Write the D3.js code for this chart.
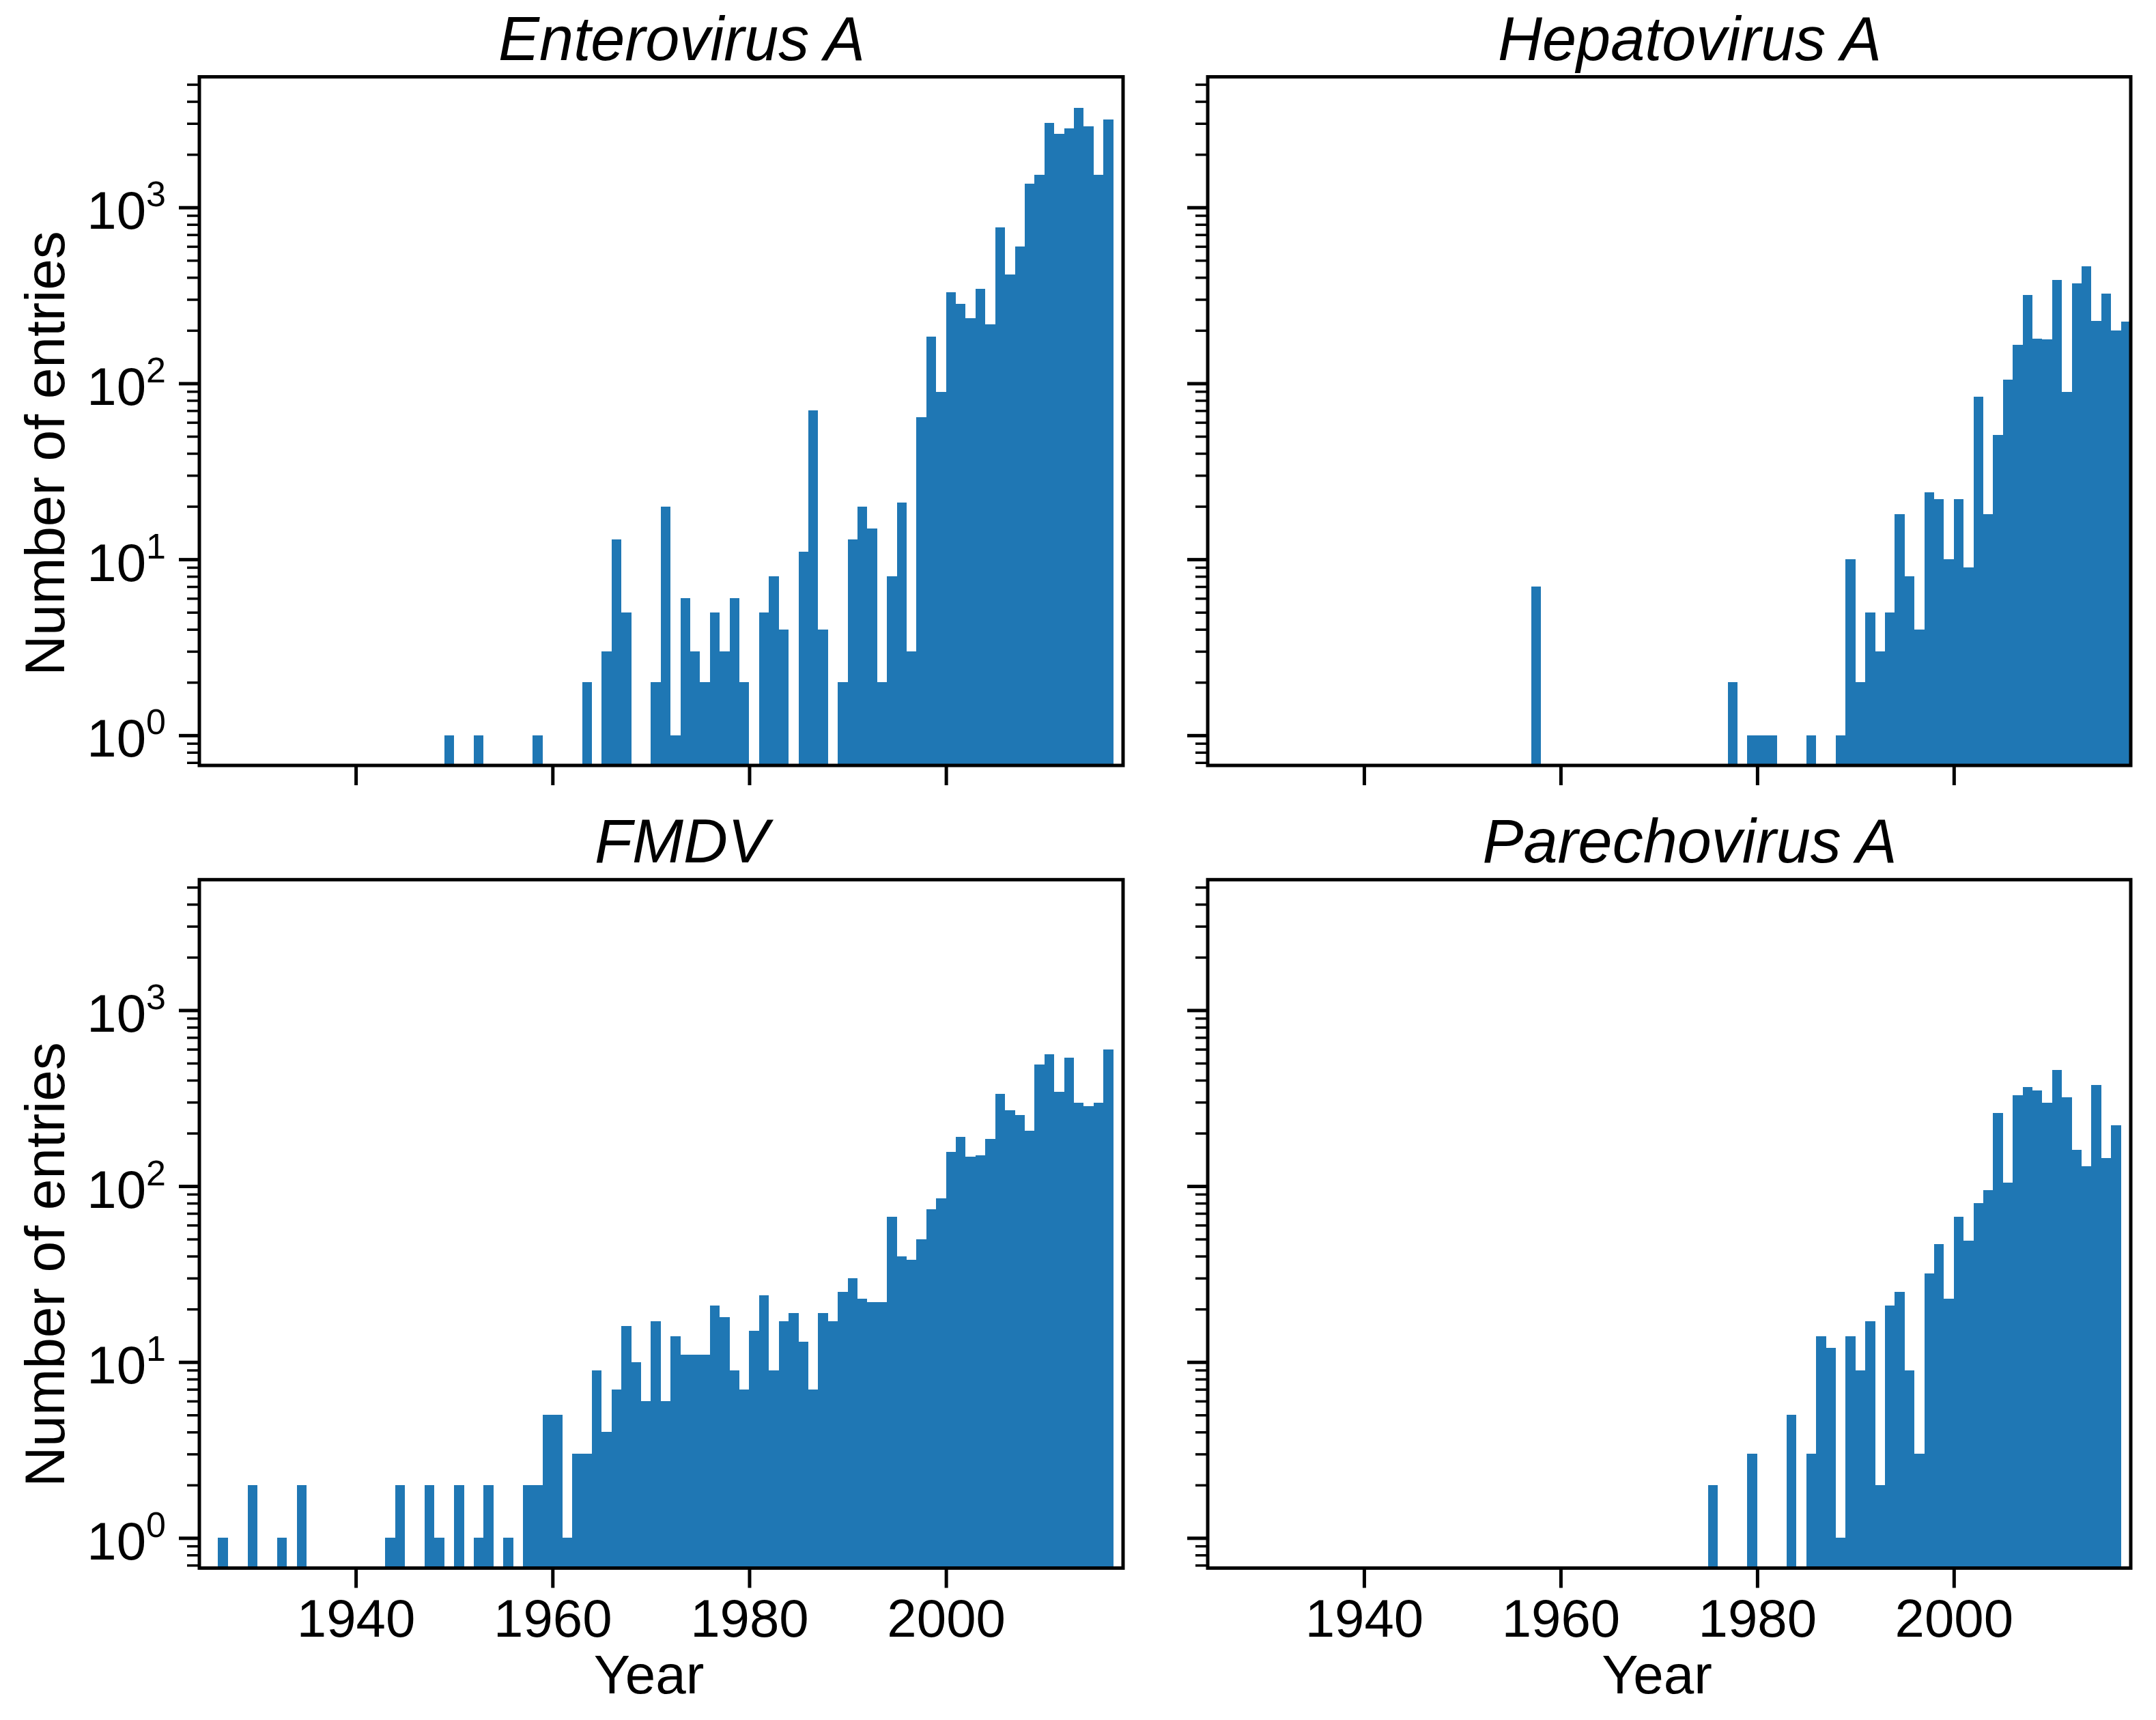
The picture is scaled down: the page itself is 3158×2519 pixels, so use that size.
<!DOCTYPE html>
<html>
<head>
<meta charset="utf-8">
<script src="https://cdn.jsdelivr.net/npm/d3@7"></script>
<style>
  html, body { margin: 0; padding: 0; background: #fff; }
  svg { display: block; font-family: "Liberation Sans", Arial, sans-serif; }
</style>
</head>
<body>
<svg id="fig" width="3158" height="2519"></svg>
<script>
// counts per yearly bin (bin = [year, year + 1))
var enteroYears = [1949, 1952, 1958, 1963, 1965, 1966, 1967, 1970, 1971, 1972, 1973, 1974, 1975, 1976, 1977, 1978, 1979,
    1981, 1982, 1983, 1985, 1986, 1987, 1989, 1990, 1991, 1992, 1993, 1994, 1995, 1996, 1997, 1998, 1999,
    2000, 2001, 2002, 2003, 2004, 2005, 2006, 2007, 2008, 2009, 2010, 2011, 2012, 2013, 2014, 2015, 2016];
var enteroCounts = [1, 1, 1, 2, 3, 13, 5, 2, 20, 1, 6, 3, 2, 5, 3, 6, 2,
    5, 8, 4, 11, 70, 4, 2, 13, 20, 15, 2, 8, 21, 3, 64, 185, 89,
    328, 283, 234, 345, 217, 767, 416, 601, 1362, 1525, 3033, 2614, 2807, 3664, 2890, 1534, 3162];

var hepatoYears = [1957, 1977, 1979, 1980, 1981, 1985, 1988, 1989, 1990, 1991, 1992, 1993, 1994, 1995, 1996, 1997,
    1998, 1999, 2000, 2001, 2002, 2003, 2004, 2005, 2006, 2007, 2008, 2009, 2010, 2011, 2012, 2013, 2014,
    2015, 2016, 2017];
var hepatoCounts = [7, 2, 1, 1, 1, 1, 1, 10, 2, 5, 3, 5, 18, 8, 4, 24,
    22, 10, 22, 9, 84, 18, 51, 105, 166, 319, 179, 178, 387, 89, 370, 463, 227,
    323, 199, 224];

var fmdvYears = [1926, 1929, 1932, 1934, 1943, 1944, 1947, 1948, 1950, 1952, 1953, 1955, 1957, 1958, 1959, 1960,
    1961, 1962, 1963, 1964, 1965, 1966, 1967, 1968, 1969, 1970, 1971, 1972, 1973, 1974, 1975, 1976, 1977,
    1978, 1979, 1980, 1981, 1982, 1983, 1984, 1985, 1986, 1987, 1988, 1989, 1990, 1991, 1992, 1993, 1994,
    1995, 1996, 1997, 1998, 1999, 2000, 2001, 2002, 2003, 2004, 2005, 2006, 2007, 2008, 2009, 2010, 2011,
    2012, 2013, 2014, 2015, 2016];
var fmdvCounts = [1, 2, 1, 2, 1, 2, 2, 1, 2, 1, 2, 1, 2, 2, 5, 5,
    1, 3, 3, 9, 4, 7, 16, 10, 6, 17, 6, 14, 11, 11, 11, 21, 18,
    9, 7, 15, 24, 9, 17, 19, 13, 7, 19, 17, 25, 30, 23, 22, 22, 67,
    40, 38, 50, 74, 85, 156, 191, 147, 150, 186, 334, 269, 253, 206, 492, 564, 344,
    537, 297, 285, 297, 598];

var parechoYears = [1975, 1979, 1983, 1985, 1986, 1987, 1988, 1989, 1990, 1991, 1992, 1993, 1994, 1995, 1996,
    1997, 1998, 1999, 2000, 2001, 2002, 2003, 2004, 2005, 2006, 2007, 2008, 2009, 2010, 2011, 2012, 2013,
    2014, 2015, 2016];
var parechoCounts = [2, 3, 5, 3, 14, 12, 1, 14, 9, 17, 2, 21, 25, 9, 3,
    32, 47, 23, 67, 49, 80, 95, 261, 105, 328, 365, 351, 299, 458, 321, 160, 130,
    377, 144, 222];

var titles = ["Enterovirus A", "Hepatovirus A", "FMDV", "Parechovirus A"];
var xTicks = [1940, 1960, 1980, 2000];
var yTicks = [1, 10, 100, 1000];
var yExponents = ["0", "1", "2", "3"];

var xDomain = [1924.1, 2018],
    yDomain = [0.674, 5520];

var colX = [[292, 1645], [1769, 3121]],
    rowY = [[112.5, 1121], [1288.3, 2296.5]];

var barColor = "#1f77b4";

var svg = d3.select("#fig");
svg.append("rect").attr("width", 3158).attr("height", 2519).attr("fill", "#fff");

var panels = [
    { title: titles[0], years: enteroYears, counts: enteroCounts, col: 0, row: 0 },
    { title: titles[1], years: hepatoYears, counts: hepatoCounts, col: 1, row: 0 },
    { title: titles[2], years: fmdvYears, counts: fmdvCounts, col: 0, row: 1 },
    { title: titles[3], years: parechoYears, counts: parechoCounts, col: 1, row: 1 }
];

panels.forEach(drawPanel);

function drawPanel(p) {
    var x0 = colX[p.col][0], x1 = colX[p.col][1],
        y0 = rowY[p.row][0], y1 = rowY[p.row][1];

    var x = d3.scaleLinear().domain(xDomain).range([x0, x1]);
    var y = d3.scaleLog().domain(yDomain).range([y1, y0]);

    var g = svg.append("g");

    var bins = p.years.map(function (yr, i) { return { year: yr, n: p.counts[i] }; });

    g.append("g")
        .selectAll("rect")
        .data(bins)
        .join("rect")
        .attr("x", function (d) { return x(d.year); })
        .attr("width", function (d) { return x(d.year + 1) - x(d.year); })
        .attr("y", function (d) { return y(d.n); })
        .attr("height", function (d) { return y1 - y(d.n); })
        .attr("fill", barColor)
        .attr("shape-rendering", "crispEdges");

    // x ticks (labels only on the bottom row)
    var xAxis = g.append("g")
        .attr("transform", "translate(0," + y1 + ")")
        .call(d3.axisBottom(x).tickValues(xTicks).tickSize(29).tickFormat(""));
    xAxis.select(".domain").remove();
    xAxis.selectAll("line").attr("stroke", "#000").attr("stroke-width", 5);

    if (p.row === 1) {
        xAxis.selectAll(".tick").append("text")
            .attr("y", 100)
            .attr("text-anchor", "middle")
            .attr("font-size", 78)
            .attr("fill", "#000")
            .text(function (d) { return d; });

        g.append("text")
            .attr("x", (x0 + x1) / 2 - 18)
            .attr("y", 2480)
            .attr("text-anchor", "middle")
            .attr("font-size", 80)
            .attr("fill", "#000")
            .text("Year");
    }

    // minor log ticks
    var minor = [];
    [0.1, 1, 10, 100, 1000].forEach(function (dec) {
        for (var k = 2; k <= 9; k++) {
            var v = dec * k;
            if (v > yDomain[0] && v < yDomain[1]) minor.push(v);
        }
    });
    var yMinor = g.append("g")
        .attr("transform", "translate(" + x0 + ",0)")
        .call(d3.axisLeft(y).tickValues(minor).tickSize(18).tickFormat(""));
    yMinor.select(".domain").remove();
    yMinor.selectAll("line").attr("stroke", "#000").attr("stroke-width", 3.5);

    var yAxis = g.append("g")
        .attr("transform", "translate(" + x0 + ",0)")
        .call(d3.axisLeft(y).tickValues(yTicks).tickSize(30).tickFormat(""));
    yAxis.select(".domain").remove();
    yAxis.selectAll("line").attr("stroke", "#000").attr("stroke-width", 5);

    if (p.col === 0) {
        var lab = yAxis.selectAll(".tick").append("text")
            .attr("x", -49)
            .attr("y", 31)
            .attr("text-anchor", "end")
            .attr("font-size", 78)
            .attr("fill", "#000");
        lab.append("tspan").text("10");
        lab.append("tspan")
            .attr("font-size", 52)
            .attr("dy", -33)
            .text(function (d, i) { return yExponents[i]; });

        g.append("text")
            .attr("transform", "translate(94," + (p.row === 0 ? 664 : 1852) + ") rotate(-90)")
            .attr("text-anchor", "middle")
            .attr("font-size", 82)
            .attr("fill", "#000")
            .text("Number of entries");
    }

    // frame
    g.append("rect")
        .attr("x", x0).attr("y", y0)
        .attr("width", x1 - x0).attr("height", y1 - y0)
        .attr("fill", "none")
        .attr("stroke", "#000")
        .attr("stroke-width", 5);

    g.append("text")
        .attr("x", (x0 + x1) / 2 + 30)
        .attr("y", y0 - 25)
        .attr("text-anchor", "middle")
        .attr("font-size", 90)
        .attr("font-style", "italic")
        .attr("fill", "#000")
        .text(p.title);
}
</script>
</body>
</html>
